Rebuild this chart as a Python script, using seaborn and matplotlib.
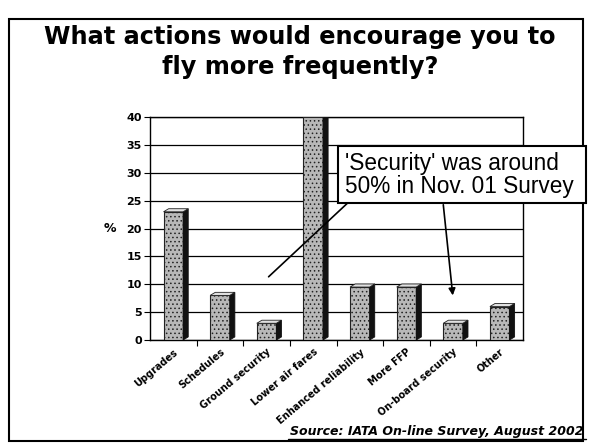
import matplotlib
matplotlib.use("Agg")
import matplotlib.pyplot as plt
import seaborn as sns
import pandas as pd
from matplotlib.patches import Rectangle, Polygon
from matplotlib.lines import Line2D

categories = ["Upgrades", "Schedules", "Ground security", "Lower air fares",
              "Enhanced reliability", "More FFP", "On-board security", "Other"]
values = [23, 8, 3, 40, 9.5, 9.5, 3, 6]
yticks = [0, 5, 10, 15, 20, 25, 30, 35, 40]

title_text = "What actions would encourage you to\nfly more frequently?"
note_lines = ["'Security' was around", "50% in Nov. 01 Survey"]
source_text = "Source: IATA On-line Survey, August 2002"

sns.set_theme(style="white")
plt.rcParams['font.family'] = ['DejaVu Sans']
plt.rcParams['hatch.linewidth'] = 0.6
plt.rcParams['text.color'] = 'black'
plt.rcParams['xtick.color'] = 'black'
plt.rcParams['ytick.color'] = 'black'
plt.rcParams['axes.labelcolor'] = 'black'

W, H = 590, 443
fig = plt.figure(figsize=(W / 100, H / 100), dpi=100)
fig.patch.set_facecolor("white")

def fx(px):
    return px / W

def fy(py):
    return 1 - py / H

ax = fig.add_axes([fx(150), fy(340), fx(523) - fx(150), fy(117) - fy(340)])
df = pd.DataFrame({"cat": categories, "val": values})
sns.barplot(data=df, x="cat", y="val", ax=ax, color="#b8b8b8", width=0.42,
            edgecolor="#222222", linewidth=0.8, saturation=1, zorder=3)

# 3D-like shading derived from the drawn bars
dx, dy = 0.11, 0.55
for p in ax.patches:
    p.set_hatch("....")
    x0, w, h = p.get_x(), p.get_width(), p.get_height()
    side = Polygon([(x0 + w, 0), (x0 + w, h), (x0 + w + dx, h + dy), (x0 + w + dx, dy)],
                   closed=True, facecolor="#111111", edgecolor="#111111", lw=0.6, zorder=3)
    top = Polygon([(x0, h), (x0 + w, h), (x0 + w + dx, h + dy), (x0 + dx, h + dy)],
                  closed=True, facecolor="#e0e0e0", edgecolor="#222222", lw=0.6, zorder=3)
    ax.add_patch(side)
    ax.add_patch(top)

ax.set_ylim(0, 40)
ax.set_xlim(-0.5, len(categories) - 0.5)
ax.set_yticks(yticks)
ax.set_yticklabels([str(t) for t in yticks], fontsize=8, fontweight="bold")
ax.yaxis.grid(True, color="black", linewidth=0.9)
ax.set_axisbelow(True)
ax.set_xticks(range(len(categories)))
ax.set_xticklabels(categories, rotation=40, ha="right", rotation_mode="anchor",
                   fontsize=7, fontweight="bold")
ax.set_xticks([i + 0.5 for i in range(len(categories) - 1)], minor=True)
ax.tick_params(axis="x", which="major", length=0, pad=5)
ax.tick_params(axis="x", which="minor", length=4, width=0.8, color="black", direction="out", bottom=True)
ax.tick_params(axis="y", length=4, width=0.8, color="black", direction="out", left=True, pad=2)
for s in ["left", "right", "top", "bottom"]:
    ax.spines[s].set_visible(True)
    ax.spines[s].set_color("black")
    ax.spines[s].set_linewidth(1.0)
ax.set_xlabel("")
ax.set_ylabel("%", rotation=0, fontsize=9, fontweight="bold", labelpad=12, va="center")

# outer frame
fig.patches.append(Rectangle((fx(9), fy(441)), fx(583) - fx(9), fy(19) - fy(441),
                             transform=fig.transFigure, fill=False, edgecolor="black",
                             linewidth=1.5, zorder=0))

fig.text(0.508, fy(52), title_text, ha="center", va="center", fontsize=17.3,
         fontweight="bold", linespacing=1.3, color="black")

# annotation arrows
ax.annotate("", xy=(2.0, 11), xycoords="data",
            xytext=(fx(353), fy(198)), textcoords="figure fraction",
            arrowprops=dict(arrowstyle="-", color="black", lw=1.2), zorder=5)
ax.annotate("", xy=(6.0, 7.5), xycoords="data",
            xytext=(fx(443), fy(202)), textcoords="figure fraction",
            arrowprops=dict(arrowstyle="-|>", color="black", lw=1.2, mutation_scale=10), zorder=5)

# annotation box
fig.patches.append(Rectangle((fx(338), fy(203)), fx(586) - fx(338), fy(146) - fy(203),
                             transform=fig.transFigure, facecolor="white", edgecolor="black",
                             linewidth=1.5, zorder=6))
fig.text(fx(345), fy(163), note_lines[0], ha="left", va="center", fontsize=16.3,
         family=["Liberation Sans"], color="black", zorder=7)
fig.text(fx(345), fy(187), note_lines[1], ha="left", va="center", fontsize=16.3,
         family=["Liberation Sans"], color="black", zorder=7)

fig.text(fx(290), fy(432), source_text, ha="left", va="center", fontsize=9,
         fontweight="bold", style="italic", color="black")
fig.lines.append(Line2D([fx(288), fx(586)], [fy(439), fy(439)], transform=fig.transFigure,
                        color="black", lw=1.0))

fig.savefig("out.png", dpi=100)
